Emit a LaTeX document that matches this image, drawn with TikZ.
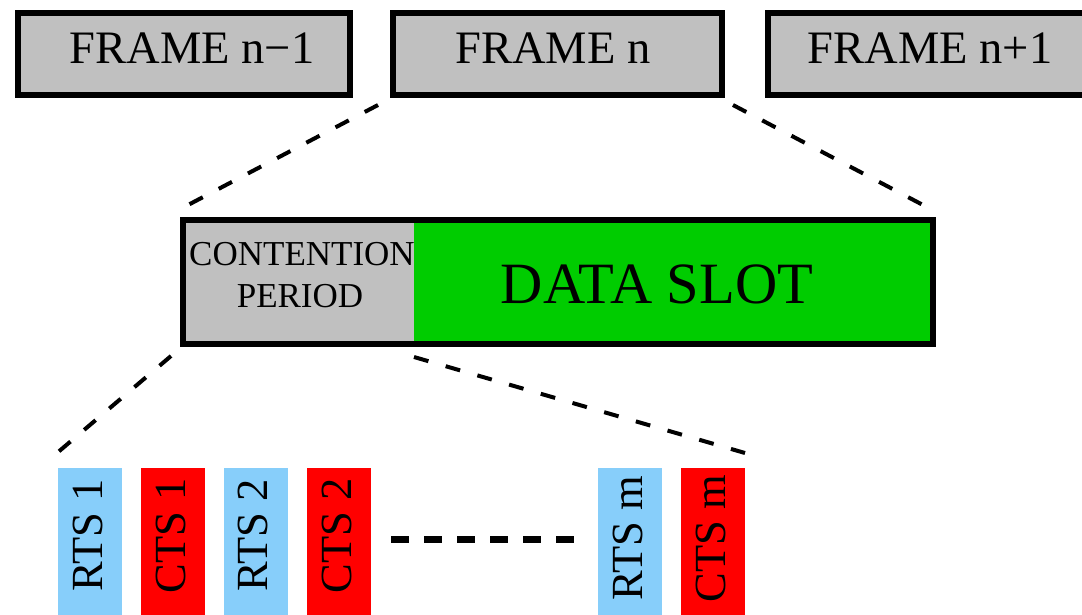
\documentclass[tikz,border=0pt]{standalone}
\usepackage{fontspec}
\setmainfont{Liberation Serif}
\definecolor{framegray}{HTML}{C0C0C0}
\definecolor{slotgreen}{HTML}{00CC00}
\definecolor{rtsblue}{HTML}{87CEFA}
\definecolor{ctsred}{HTML}{FF0000}
\tikzset{
  framebox/.style={draw=black, line width=6pt, fill=framegray, inner sep=0pt},
  frametext/.style={anchor=base, inner sep=0pt, font=\fontsize{46.5}{50}\selectfont},
  zoomline/.style={line width=4pt, dash pattern=on 15pt off 18pt},
  slotbox/.style={inner sep=0pt, minimum width=64pt, minimum height=180pt, anchor=north},
  slottext/.style={rotate=90, inner sep=0pt, font=\fontsize{44.5}{48}\selectfont},
}
\begin{document}
\begin{tikzpicture}[x=1pt,y=-1pt]
\useasboundingbox (0,0) rectangle (1082,614);

% superframe sequence
\node[framebox, minimum width=332pt, minimum height=82pt] (fprev) at (184,54) {};
\node[framebox, minimum width=329pt, minimum height=82pt] (fcur) at (557.5,54) {};
\node[framebox, minimum width=340pt, minimum height=82pt, anchor=west] (fnext) at (765,54) {};
\node[frametext] (tprev) at (192,63) {FRAME n\char"2212 1};
\node[frametext] (tcur) at (553,63) {FRAME n};
\node[frametext] (tnext) at (930,63) {FRAME n+1};

% expanded frame: contention period + data slot
\fill[framegray] (183,220) rectangle (414,344);
\fill[slotgreen] (414,220) rectangle (933,344);
\node[draw=black, line width=6pt, minimum width=750pt, minimum height=124pt, inner sep=0pt] (frame) at (558,282) {};
\node[anchor=base, inner sep=0pt, font=\fontsize{35}{40}\selectfont] (tcont) at (302,265) {CONTENTION};
\node[anchor=base, inner sep=0pt, font=\fontsize{35}{40}\selectfont] (tper) at (300,307) {PERIOD};
\node[anchor=base, inner sep=0pt, font=\fontsize{58.5}{62}\selectfont] (tdata) at (657,303) {DATA SLOT};

% zoom guides
\coordinate (za1) at (378,105);
\coordinate (za2) at (188,205);
\coordinate (zb1) at (733,105);
\coordinate (zb2) at (923,205);
\coordinate (zc1) at (171,356);
\coordinate (zc2) at (57,453);
\coordinate (zd1) at (414,357);
\coordinate (zd2) at (745,453);
\draw[zoomline] (za1) -- (za2);
\draw[zoomline] (zb1) -- (zb2);
\draw[zoomline] (zc1) -- (zc2);
\draw[zoomline] (zd1) -- (zd2);

% RTS / CTS minislots
\node[slotbox, fill=rtsblue] (rts1) at (90,468) {};
\node[slotbox, fill=ctsred] (cts1) at (173,468) {};
\node[slotbox, fill=rtsblue] (rts2) at (255.5,468) {};
\node[slotbox, fill=ctsred] (cts2) at (339,468) {};
\node[slotbox, fill=rtsblue] (rtsm) at (630,468) {};
\node[slotbox, fill=ctsred] (ctsm) at (713,468) {};
\node[slottext] (lrts1) at (87.5,535.5) {RTS 1};
\node[slottext] (lcts1) at (170.5,535.5) {CTS 1};
\node[slottext] (lrts2) at (253,535.5) {RTS 2};
\node[slottext] (lcts2) at (336.5,535.5) {CTS 2};
\node[slottext] (lrtsm) at (627.5,538.5) {RTS m};
\node[slottext] (lctsm) at (710.5,538.5) {CTS m};

% ellipsis between slots
\coordinate (e1) at (391,539);
\coordinate (e2) at (576,539);
\draw[line width=7pt, dash pattern=on 18pt off 15pt] (e1) -- (e2);
\end{tikzpicture}
\end{document}
